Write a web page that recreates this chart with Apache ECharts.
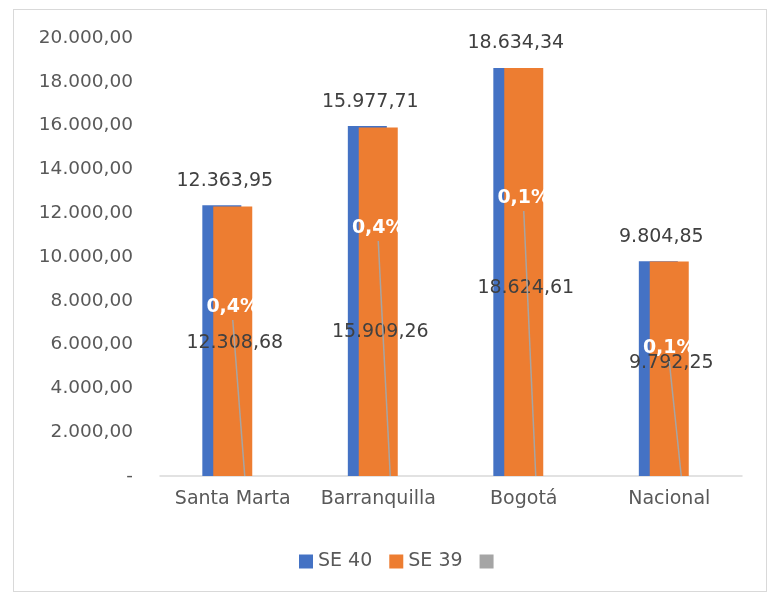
<!DOCTYPE html>
<html>
<head>
<meta charset="utf-8">
<script src="https://cdn.jsdelivr.net/npm/echarts@6/dist/echarts.min.js"></script>
<style>
  html, body { margin: 0; padding: 0; background: #fff; }
  #frame { position: absolute; left: 13px; top: 9px; width: 752px; height: 581px; border: 1px solid #d9d9d9; }
  #chart { position: absolute; left: 0; top: 0; width: 768px; height: 592px; }
</style>
</head>
<body>
<div id="frame"></div>
<div id="chart"></div>
<script>
  // datos
  var ciudades = ['Santa Marta', 'Barranquilla', 'Bogotá', 'Nacional'];
  var se40 = [12363.95, 15977.71, 18634.34, 9804.85];
  var se39 = [12308.68, 15909.26, 18624.61, 9792.25];
  var variacion = [0.4, 0.4, 0.1, 0.1]; // %

  // desplazamiento de etiquetas (movidas a mano en el original)
  var pctLift = [-169, -248, -278, -128];
  var se39Shift = [2, 30, 16, -6];

  var fuente = 'DejaVu Sans';

  function fmt(v) {
    var parts = v.toFixed(2).split('.');
    var ent = parts[0].replace(/\B(?=(\d{3})+(?!\d))/g, '.');
    return ent + ',' + parts[1];
  }

  var myChart = echarts.init(document.getElementById('chart'));

  // etiqueta % de la serie gris con su linea guia
  function renderVar(params, api) {
    var idx = api.value(0);
    var base = api.coord([idx, 0]);
    var x = base[0] + 11; // centro de la barra gris
    var ly = base[1] + pctLift[params.dataIndex];
    return {
      type: 'group',
      children: [{
        type: 'line',
        shape: { x1: x - 11, y1: ly + 13, x2: x + 1, y2: base[1] },
        style: { stroke: '#a5a5a5', lineWidth: 1.5 }
      }, {
        type: 'text',
        x: x - 11,
        y: ly,
        style: {
          text: String(variacion[params.dataIndex]).replace('.', ',') + '%',
          fill: '#ffffff',
          fontFamily: fuente,
          fontWeight: 'bold',
          fontSize: 19,
          align: 'center',
          verticalAlign: 'middle'
        }
      }]
    };
  }

  var option = {
    animation: false,
    textStyle: { fontFamily: fuente },
    grid: { left: 160, right: 26, top: 38, bottom: 116 },
    legend: {
      left: 294,
      top: 547,
      itemWidth: 14,
      itemHeight: 14,
      itemGap: 17,
      icon: 'rect',
      textStyle: { color: '#595959', fontSize: 19, fontFamily: fuente },
      data: ['SE 40', 'SE 39', ' ']
    },
    xAxis: {
      type: 'category',
      data: ciudades,
      axisLine: { lineStyle: { color: '#d9d9d9', width: 1.5 } },
      axisTick: { show: false },
      axisLabel: { color: '#595959', fontSize: 19, margin: 14, interval: 0 }
    },
    yAxis: {
      type: 'value',
      min: 0,
      max: 20000,
      interval: 2000,
      splitLine: { show: false },
      axisLine: { show: false },
      axisTick: { show: false },
      axisLabel: {
        color: '#595959',
        fontSize: 18.5,
        margin: 27,
        formatter: function (v) { return v === 0 ? '-' : fmt(v); }
      }
    },
    series: [{
      name: 'SE 40',
      type: 'bar',
      barWidth: 39,
      barGap: '-72%',
      itemStyle: { color: '#4472c4' },
      label: {
        show: true,
        position: 'top',
        distance: 15,
        offset: [3, 0],
        color: '#404040',
        fontSize: 19,
        formatter: function (p) { return fmt(p.value); }
      },
      data: se40
    }, {
      name: 'SE 39',
      type: 'bar',
      barWidth: 39,
      barGap: '-72%',
      itemStyle: { color: '#ed7d31' },
      label: {
        show: true,
        position: 'inside',
        color: '#404040',
        fontSize: 19,
        formatter: function (p) { return fmt(p.value); }
      },
      labelLayout: function (p) {
        return { dx: 2, dy: se39Shift[p.dataIndex] };
      },
      data: se39
    }, {
      name: ' ',
      type: 'bar',
      barWidth: 39,
      barGap: '-72%',
      itemStyle: { color: '#a5a5a5' },
      data: variacion.map(function (v) { return v / 100; })
    }, {
      name: 'variacion',
      type: 'custom',
      renderItem: renderVar,
      z: 3,
      data: variacion.map(function (v, i) { return [i, v / 100]; })
    }]
  };
  myChart.setOption(option);
</script>
</body>
</html>
